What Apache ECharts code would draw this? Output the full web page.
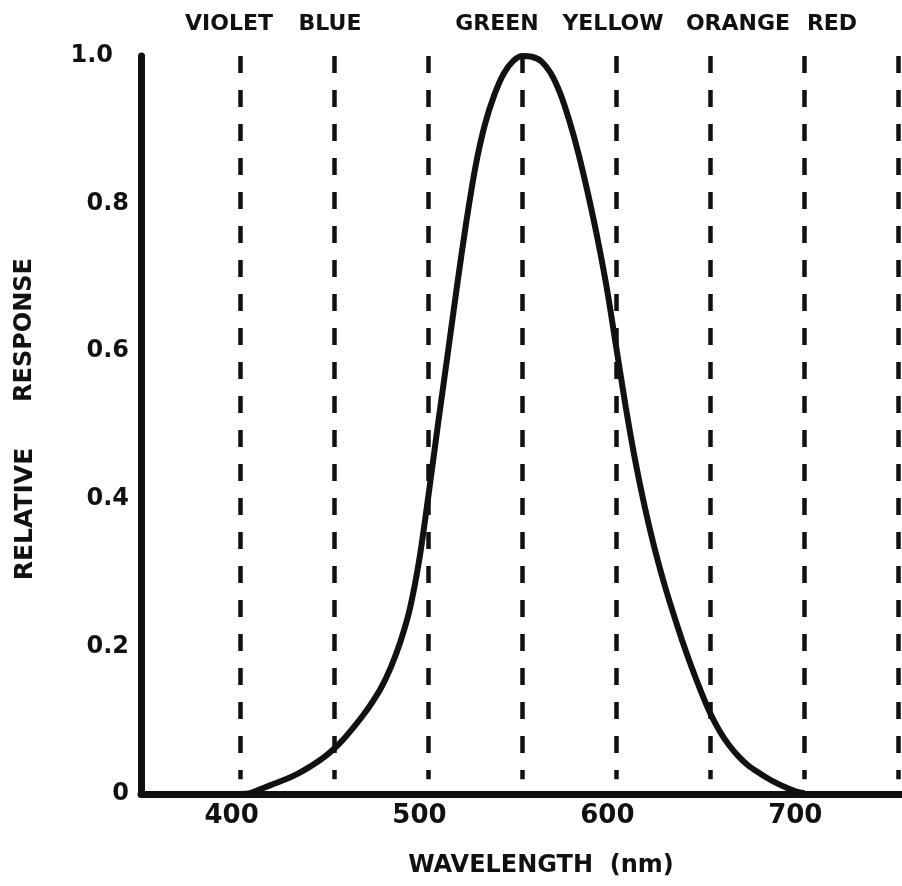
<!DOCTYPE html>
<html>
<head>
<meta charset="utf-8">
<script src="https://cdn.jsdelivr.net/npm/echarts@6/dist/echarts.min.js"></script>
<style>
html,body{margin:0;padding:0;background:#fff;}
#chart{width:902px;height:886px;}
</style>
</head>
<body>
<div id="chart"></div>
<script>
// Wavelength (nm) and relative response
const wavelengths = [400,405,410,415,420,425,430,435,440,445,450,455,460,465,470,475,480,485,490,495,
  500,505,510,515,520,525,530,535,540,545,550,555,560,565,570,575,580,585,590,595,
  600,605,610,615,620,625,630,635,640,645,650,655,660,665,670,675,680,685,690,695,700];
const response = [0,0.001,0.006,0.011,0.016,0.021,0.027,0.034,0.042,0.051,0.062,0.075,0.090,0.106,0.124,0.145,0.172,0.206,0.250,0.316,
  0.405,0.500,0.592,0.685,0.773,0.850,0.907,0.947,0.976,0.993,1.0,0.999,0.993,0.977,0.950,0.912,0.866,0.812,0.752,0.684,
  0.604,0.524,0.452,0.390,0.336,0.289,0.247,0.208,0.172,0.139,0.109,0.085,0.066,0.051,0.039,0.030,0.022,0.015,0.009,0.004,0.001];
const dividerWavelengths = [400,450,500,550,600,650,700,750];
const xTickLabels = [400,500,600,700];
const yTickLabels = [0,0.2,0.4,0.6,0.8,1.0];
const colorBands = ['VIOLET','BLUE','GREEN','YELLOW','ORANGE','RED'];
const bandLabelX = [229,330,497,613,738,832];

const FONT = '"DejaVu Sans", "Liberation Sans", sans-serif';
const INK = '#111';

const chart = echarts.init(document.getElementById('chart'), null, {renderer:'canvas'});

const curveData = wavelengths.map((w,i)=>[w,response[i]]);
const dividerLines = dividerWavelengths.map(w=>[{coord:[w,1.0]},{coord:[w,0.02]}]);

const option = {
  backgroundColor:'#fff',
  animation:false,
  grid:{left:141,right:0,top:56,bottom:92,containLabel:false},
  xAxis:{
    type:'value', min:347, max:752,
    axisLine:{show:true,onZero:false,lineStyle:{color:INK,width:7}},
    axisTick:{show:false},
    splitLine:{show:false},
    axisLabel:{
      customValues:xTickLabels,
      margin:9,
      color:INK, fontFamily:FONT, fontWeight:'bold', fontSize:26,
      padding:[0,18,0,0]
    }
  },
  yAxis:{
    type:'value', min:0, max:1.0, interval:0.2,
    axisLine:{show:true,onZero:false,lineStyle:{color:INK,width:7}},
    axisTick:{show:false},
    splitLine:{show:false},
    axisLabel:{
      customValues:yTickLabels,
      margin:12,
      color:INK, fontFamily:FONT, fontWeight:'bold', fontSize:24,
      formatter:function(v){
        if(v===0) return '0';
        if(v>=0.999) return '{top|1.0}';
        return v.toFixed(1);
      },
      rich:{top:{fontFamily:FONT,fontWeight:'bold',fontSize:24,color:INK,padding:[0,16,0,0]}}
    }
  },
  series:[
    {
      type:'line',
      data:[],
      markLine:{
        silent:true,
        symbol:['none','none'],
        label:{show:false},
        lineStyle:{color:INK,width:4.5,type:[17,17],cap:'butt'},
        data:dividerLines
      },
      z:1
    },
    {
      type:'line',
      data:curveData,
      smooth:0.3,
      showSymbol:false,
      symbol:'none',
      lineStyle:{color:INK,width:6},
      z:5
    }
  ],
  graphic:[
    ...colorBands.map((t,i)=>({
      type:'text', x:bandLabelX[i], y:24,
      style:{text:t, fill:INK, font:'bold 22px '+FONT, textAlign:'center', textVerticalAlign:'middle'}
    })),
    {
      type:'text', x:541, y:866,
      style:{text:'WAVELENGTH  (nm)', fill:INK, font:'bold 24px '+FONT, textAlign:'center', textVerticalAlign:'middle'}
    },
    {
      type:'text', x:25, y:330, rotation:Math.PI/2,
      style:{text:'RESPONSE', fill:INK, font:'bold 24px '+FONT, textAlign:'center', textVerticalAlign:'middle'}
    },
    {
      type:'text', x:25, y:514, rotation:Math.PI/2,
      style:{text:'RELATIVE', fill:INK, font:'bold 25px '+FONT, textAlign:'center', textVerticalAlign:'middle'}
    }
  ]
};
chart.setOption(option);
</script>
</body>
</html>
